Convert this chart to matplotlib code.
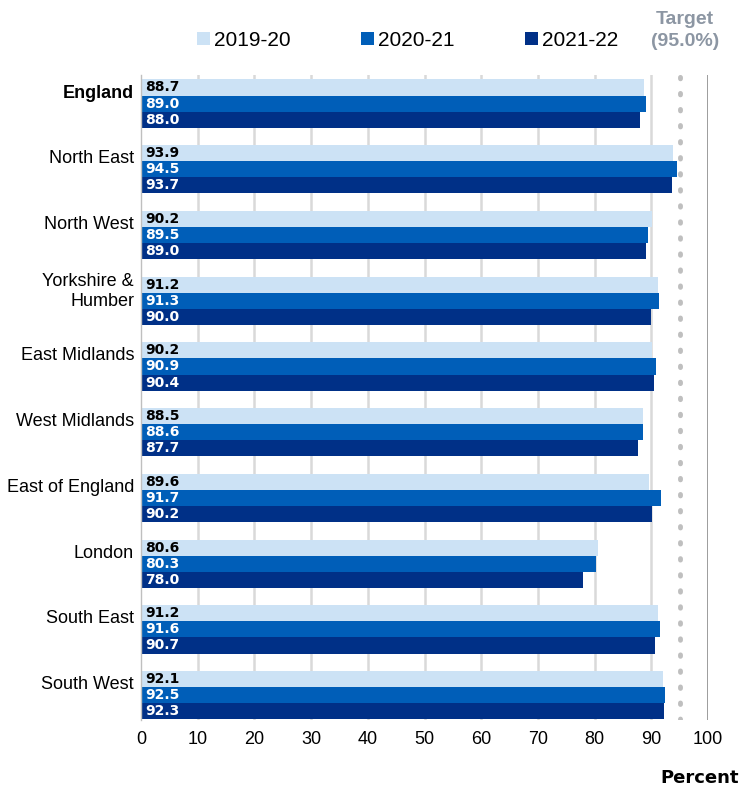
import matplotlib.pyplot as plt
import numpy as np

plt.rcParams['font.family'] = ['Liberation Sans', 'DejaVu Sans']

regions = ['England', 'North East', 'North West', 'Yorkshire &\nHumber', 'East Midlands',
           'West Midlands', 'East of England', 'London', 'South East', 'South West']
y2019 = [88.7, 93.9, 90.2, 91.2, 90.2, 88.5, 89.6, 80.6, 91.2, 92.1]
y2020 = [89.0, 94.5, 89.5, 91.3, 90.9, 88.6, 91.7, 80.3, 91.6, 92.5]
y2021 = [88.0, 93.7, 89.0, 90.0, 90.4, 87.7, 90.2, 78.0, 90.7, 92.3]
series = ['2019-20', '2020-21', '2021-22']
target = 95.0

colors = ['#CCE2F5', '#005EB8', '#003087']
text_colors = ['black', 'white', 'white']

fig = plt.figure(figsize=(7.5, 8.01), dpi=100)
ax = fig.add_axes([0.188, 0.101, 0.756, 0.805])

n = len(regions)
pos = np.arange(n)
h = 0.245
for i, (vals, c, tc, lab) in enumerate(zip([y2019, y2020, y2021], colors, text_colors, series)):
    yy = pos + (i - 1) * h
    ax.barh(yy, vals, height=h, color=c, label=lab, zorder=2)
    for y, v in zip(yy, vals):
        ax.text(0.8, y, f'{v:.1f}', va='center', ha='left', fontsize=10,
                fontweight='bold', color=tc, family='DejaVu Sans', zorder=3)

ax.set_ylim(n - 1 + 0.38, -0.43)
ax.set_xlim(0, 100)
ax.set_xticks(range(0, 101, 10))
ax.tick_params(axis='x', length=0, labelsize=13, pad=8)
ax.tick_params(axis='y', length=0, labelsize=13, pad=5)
ax.set_yticks(pos - 0.19)
ax.set_yticklabels(regions, ha='right')
ax.get_yticklabels()[0].set_fontweight('bold')

for x in range(10, 100, 10):
    ax.axvline(x, color='#D9D9D9', lw=1.8, zorder=1)
ax.axvline(100, color='#808080', lw=1.8, zorder=1)
ax.axvline(target, color='#BFBFBF', lw=3.5, linestyle=(0, (0.3, 3)),
           dash_capstyle='round', zorder=1)

for s in ['top', 'right', 'bottom']:
    ax.spines[s].set_visible(False)
ax.spines['left'].set_color('#BFBFBF')
ax.spines['left'].set_linewidth(1)

leg = fig.legend(loc='upper left', bbox_to_anchor=(0.238, 0.985), ncol=3,
                 frameon=False, fontsize=15, handlelength=0.6, handleheight=0.6,
                 handletextpad=0.2, columnspacing=3.4)

fig.text(0.913, 0.986, 'Target\n(95.0%)', ha='center', va='top', fontsize=14,
         fontweight='bold', color='#8C96A3', linespacing=1.4)
fig.text(0.985, 0.018, 'Percent', ha='right', va='bottom', fontsize=13,
         fontweight='bold', family='DejaVu Sans')

fig.savefig('out.png', dpi=100)
